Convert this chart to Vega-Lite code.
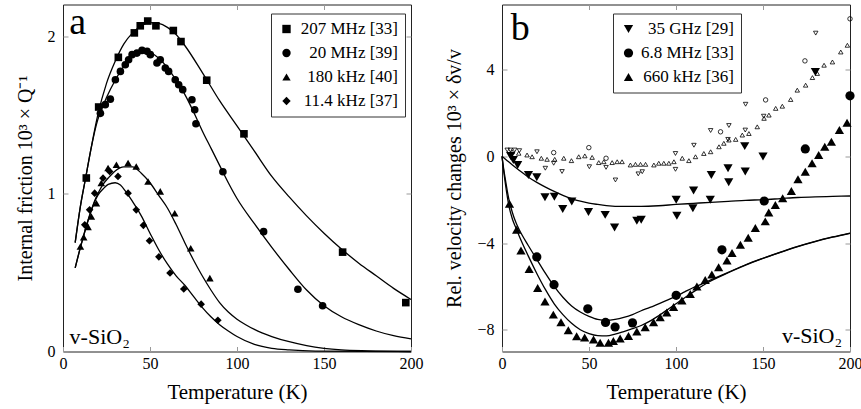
{
  "$schema": "https://vega.github.io/schema/vega-lite/v6.json",
  "padding": {"left": 14, "top": 2.5, "right": 5, "bottom": 5},
  "spacing": 91,
  "bounds": "flush",
  "datasets": {
    "curvesA": [
      {"c":"207","T":7,"v":0.69},{"c":"207","T":10,"v":0.92},{"c":"207","T":13,"v":1.1},{"c":"207","T":16,"v":1.28},{"c":"207","T":20,"v":1.5},{"c":"207","T":25,"v":1.7},{"c":"207","T":30,"v":1.84},{"c":"207","T":35,"v":1.95},{"c":"207","T":40,"v":2.02},{"c":"207","T":45,"v":2.065},{"c":"207","T":50,"v":2.085},{"c":"207","T":55,"v":2.08},{"c":"207","T":60,"v":2.055},{"c":"207","T":65,"v":2.01},{"c":"207","T":70,"v":1.94},{"c":"207","T":80,"v":1.77},{"c":"207","T":90,"v":1.59},{"c":"207","T":100,"v":1.43},{"c":"207","T":110,"v":1.27},{"c":"207","T":120,"v":1.11},{"c":"207","T":130,"v":0.98},{"c":"207","T":140,"v":0.86},{"c":"207","T":150,"v":0.75},{"c":"207","T":160,"v":0.65},{"c":"207","T":170,"v":0.56},{"c":"207","T":180,"v":0.48},{"c":"207","T":190,"v":0.4},{"c":"207","T":200,"v":0.33},
      {"c":"20","T":7,"v":0.69},{"c":"20","T":10,"v":0.92},{"c":"20","T":13,"v":1.1},{"c":"20","T":16,"v":1.28},{"c":"20","T":20,"v":1.47},{"c":"20","T":22,"v":1.53},{"c":"20","T":25,"v":1.61},{"c":"20","T":30,"v":1.72},{"c":"20","T":35,"v":1.81},{"c":"20","T":40,"v":1.87},{"c":"20","T":45,"v":1.9},{"c":"20","T":50,"v":1.895},{"c":"20","T":55,"v":1.86},{"c":"20","T":60,"v":1.8},{"c":"20","T":65,"v":1.72},{"c":"20","T":70,"v":1.63},{"c":"20","T":75,"v":1.52},{"c":"20","T":80,"v":1.4},{"c":"20","T":85,"v":1.29},{"c":"20","T":90,"v":1.18},{"c":"20","T":95,"v":1.07},{"c":"20","T":100,"v":0.97},{"c":"20","T":110,"v":0.81},{"c":"20","T":120,"v":0.66},{"c":"20","T":130,"v":0.52},{"c":"20","T":140,"v":0.39},{"c":"20","T":150,"v":0.29},{"c":"20","T":160,"v":0.22},{"c":"20","T":170,"v":0.17},{"c":"20","T":180,"v":0.13},{"c":"20","T":190,"v":0.1},{"c":"20","T":200,"v":0.08},
      {"c":"180","T":7,"v":0.53},{"c":"180","T":10,"v":0.66},{"c":"180","T":12,"v":0.74},{"c":"180","T":15,"v":0.855},{"c":"180","T":18,"v":0.95},{"c":"180","T":20,"v":1.0},{"c":"180","T":23,"v":1.06},{"c":"180","T":26,"v":1.1},{"c":"180","T":30,"v":1.145},{"c":"180","T":35,"v":1.17},{"c":"180","T":40,"v":1.17},{"c":"180","T":45,"v":1.13},{"c":"180","T":50,"v":1.07},{"c":"180","T":55,"v":0.99},{"c":"180","T":60,"v":0.91},{"c":"180","T":65,"v":0.805},{"c":"180","T":70,"v":0.69},{"c":"180","T":75,"v":0.58},{"c":"180","T":80,"v":0.48},{"c":"180","T":85,"v":0.39},{"c":"180","T":90,"v":0.31},{"c":"180","T":95,"v":0.25},{"c":"180","T":100,"v":0.205},{"c":"180","T":105,"v":0.17},{"c":"180","T":110,"v":0.14},{"c":"180","T":120,"v":0.095},{"c":"180","T":130,"v":0.062},{"c":"180","T":140,"v":0.037},{"c":"180","T":150,"v":0.02},{"c":"180","T":160,"v":0.01},{"c":"180","T":175,"v":0.004},{"c":"180","T":200,"v":0.0},
      {"c":"11","T":7,"v":0.53},{"c":"11","T":10,"v":0.66},{"c":"11","T":12,"v":0.74},{"c":"11","T":15,"v":0.85},{"c":"11","T":18,"v":0.945},{"c":"11","T":20,"v":0.99},{"c":"11","T":23,"v":1.03},{"c":"11","T":26,"v":1.06},{"c":"11","T":30,"v":1.07},{"c":"11","T":33,"v":1.055},{"c":"11","T":36,"v":1.015},{"c":"11","T":40,"v":0.95},{"c":"11","T":45,"v":0.86},{"c":"11","T":50,"v":0.75},{"c":"11","T":55,"v":0.645},{"c":"11","T":60,"v":0.555},{"c":"11","T":65,"v":0.48},{"c":"11","T":70,"v":0.42},{"c":"11","T":75,"v":0.35},{"c":"11","T":80,"v":0.28},{"c":"11","T":85,"v":0.22},{"c":"11","T":90,"v":0.17},{"c":"11","T":95,"v":0.13},{"c":"11","T":100,"v":0.095},{"c":"11","T":110,"v":0.045},{"c":"11","T":120,"v":0.02},{"c":"11","T":130,"v":0.01},{"c":"11","T":145,"v":0.003},{"c":"11","T":200,"v":0.0}
    ],
    "ptsA": [
      {"s":"207 MHz [33]","T":13.4,"v":1.1},{"s":"207 MHz [33]","T":20.5,"v":1.55},{"s":"207 MHz [33]","T":31.8,"v":1.865},{"s":"207 MHz [33]","T":41,"v":2.02},{"s":"207 MHz [33]","T":44.4,"v":2.065},{"s":"207 MHz [33]","T":48.7,"v":2.095},{"s":"207 MHz [33]","T":53.4,"v":2.065},{"s":"207 MHz [33]","T":63.4,"v":2.035},{"s":"207 MHz [33]","T":67.8,"v":1.965},{"s":"207 MHz [33]","T":82.6,"v":1.72},{"s":"207 MHz [33]","T":104,"v":1.38},{"s":"207 MHz [33]","T":160.7,"v":0.63},{"s":"207 MHz [33]","T":197,"v":0.31},
      {"s":"20 MHz [39]","T":21.5,"v":1.51},{"s":"20 MHz [39]","T":24.3,"v":1.565},{"s":"20 MHz [39]","T":27.2,"v":1.6},{"s":"20 MHz [39]","T":30.1,"v":1.723},{"s":"20 MHz [39]","T":33,"v":1.776},{"s":"20 MHz [39]","T":35.8,"v":1.818},{"s":"20 MHz [39]","T":37.7,"v":1.85},{"s":"20 MHz [39]","T":39.7,"v":1.882},{"s":"20 MHz [39]","T":42.5,"v":1.892},{"s":"20 MHz [39]","T":45.4,"v":1.909},{"s":"20 MHz [39]","T":48.3,"v":1.903},{"s":"20 MHz [39]","T":50.2,"v":1.882},{"s":"20 MHz [39]","T":54,"v":1.829},{"s":"20 MHz [39]","T":55.9,"v":1.85},{"s":"20 MHz [39]","T":58.8,"v":1.797},{"s":"20 MHz [39]","T":60.7,"v":1.776},{"s":"20 MHz [39]","T":64.5,"v":1.723},{"s":"20 MHz [39]","T":66.5,"v":1.691},{"s":"20 MHz [39]","T":68.8,"v":1.66},{"s":"20 MHz [39]","T":74.1,"v":1.596},{"s":"20 MHz [39]","T":75.7,"v":1.533},{"s":"20 MHz [39]","T":76.4,"v":1.444},{"s":"20 MHz [39]","T":91.9,"v":1.14},{"s":"20 MHz [39]","T":115.3,"v":0.76},{"s":"20 MHz [39]","T":135,"v":0.395},{"s":"20 MHz [39]","T":149.2,"v":0.29},
      {"s":"180 kHz [40]","T":10,"v":0.666},{"s":"180 kHz [40]","T":11.9,"v":0.725},{"s":"180 kHz [40]","T":14.4,"v":0.79},{"s":"180 kHz [40]","T":16.3,"v":0.856},{"s":"180 kHz [40]","T":19.2,"v":0.94},{"s":"180 kHz [40]","T":22,"v":1.068},{"s":"180 kHz [40]","T":25.9,"v":1.163},{"s":"180 kHz [40]","T":30.7,"v":1.184},{"s":"180 kHz [40]","T":37.4,"v":1.195},{"s":"180 kHz [40]","T":42.1,"v":1.173},{"s":"180 kHz [40]","T":48.9,"v":1.078},{"s":"180 kHz [40]","T":55.9,"v":1.015},{"s":"180 kHz [40]","T":64.2,"v":0.877},{"s":"180 kHz [40]","T":73.4,"v":0.655},{"s":"180 kHz [40]","T":84.4,"v":0.465},
      {"s":"11.4 kHz [37]","T":12.5,"v":0.803},{"s":"11.4 kHz [37]","T":15.3,"v":0.898},{"s":"11.4 kHz [37]","T":18.2,"v":1.004},{"s":"11.4 kHz [37]","T":23,"v":1.099},{"s":"11.4 kHz [37]","T":26.8,"v":1.142},{"s":"11.4 kHz [37]","T":31.6,"v":1.11},{"s":"11.4 kHz [37]","T":37.4,"v":1.004},{"s":"11.4 kHz [37]","T":42.1,"v":0.898},{"s":"11.4 kHz [37]","T":46.2,"v":0.8},{"s":"11.4 kHz [37]","T":49.7,"v":0.702},{"s":"11.4 kHz [37]","T":55.1,"v":0.6},{"s":"11.4 kHz [37]","T":61.5,"v":0.498},{"s":"11.4 kHz [37]","T":69.4,"v":0.396},{"s":"11.4 kHz [37]","T":79.4,"v":0.3},{"s":"11.4 kHz [37]","T":89,"v":0.198}
    ],
    "curvesB": [
      {"c":"35","T":0,"v":0},{"c":"35","T":3,"v":-0.2},{"c":"35","T":6,"v":-0.4},{"c":"35","T":10,"v":-0.65},{"c":"35","T":15,"v":-0.95},{"c":"35","T":20,"v":-1.2},{"c":"35","T":25,"v":-1.42},{"c":"35","T":30,"v":-1.62},{"c":"35","T":35,"v":-1.8},{"c":"35","T":40,"v":-1.95},{"c":"35","T":45,"v":-2.07},{"c":"35","T":50,"v":-2.16},{"c":"35","T":55,"v":-2.22},{"c":"35","T":60,"v":-2.27},{"c":"35","T":70,"v":-2.31},{"c":"35","T":80,"v":-2.31},{"c":"35","T":90,"v":-2.28},{"c":"35","T":100,"v":-2.22},{"c":"35","T":110,"v":-2.17},{"c":"35","T":120,"v":-2.12},{"c":"35","T":130,"v":-2.08},{"c":"35","T":140,"v":-2.03},{"c":"35","T":150,"v":-2.0},{"c":"35","T":160,"v":-1.95},{"c":"35","T":170,"v":-1.9},{"c":"35","T":180,"v":-1.87},{"c":"35","T":190,"v":-1.85},{"c":"35","T":200,"v":-1.83},
      {"c":"68","T":0,"v":0},{"c":"68","T":1,"v":-0.6},{"c":"68","T":2,"v":-1.1},{"c":"68","T":4,"v":-2.0},{"c":"68","T":6,"v":-2.6},{"c":"68","T":8,"v":-3.05},{"c":"68","T":10,"v":-3.4},{"c":"68","T":15,"v":-4.1},{"c":"68","T":20,"v":-4.75},{"c":"68","T":25,"v":-5.4},{"c":"68","T":30,"v":-6.0},{"c":"68","T":35,"v":-6.5},{"c":"68","T":40,"v":-6.9},{"c":"68","T":45,"v":-7.18},{"c":"68","T":50,"v":-7.38},{"c":"68","T":55,"v":-7.52},{"c":"68","T":60,"v":-7.56},{"c":"68","T":65,"v":-7.52},{"c":"68","T":70,"v":-7.43},{"c":"68","T":75,"v":-7.3},{"c":"68","T":80,"v":-7.12},{"c":"68","T":85,"v":-6.97},{"c":"68","T":90,"v":-6.8},{"c":"68","T":95,"v":-6.63},{"c":"68","T":100,"v":-6.45},{"c":"68","T":105,"v":-6.25},{"c":"68","T":110,"v":-6.05},{"c":"68","T":115,"v":-5.88},{"c":"68","T":120,"v":-5.7},{"c":"68","T":130,"v":-5.35},{"c":"68","T":140,"v":-5.0},{"c":"68","T":150,"v":-4.7},{"c":"68","T":160,"v":-4.42},{"c":"68","T":170,"v":-4.15},{"c":"68","T":180,"v":-3.92},{"c":"68","T":190,"v":-3.72},{"c":"68","T":200,"v":-3.54},
      {"c":"660","T":0,"v":0},{"c":"660","T":1,"v":-0.7},{"c":"660","T":2,"v":-1.3},{"c":"660","T":4,"v":-2.3},{"c":"660","T":6,"v":-2.9},{"c":"660","T":8,"v":-3.3},{"c":"660","T":10,"v":-3.7},{"c":"660","T":15,"v":-4.58},{"c":"660","T":20,"v":-5.4},{"c":"660","T":25,"v":-6.15},{"c":"660","T":30,"v":-6.8},{"c":"660","T":35,"v":-7.3},{"c":"660","T":40,"v":-7.7},{"c":"660","T":45,"v":-8.0},{"c":"660","T":50,"v":-8.18},{"c":"660","T":55,"v":-8.27},{"c":"660","T":60,"v":-8.28},{"c":"660","T":65,"v":-8.2},{"c":"660","T":70,"v":-8.08},{"c":"660","T":75,"v":-7.95},{"c":"660","T":80,"v":-7.8},{"c":"660","T":85,"v":-7.6},{"c":"660","T":90,"v":-7.35},{"c":"660","T":95,"v":-7.08},{"c":"660","T":100,"v":-6.8},{"c":"660","T":105,"v":-6.52},{"c":"660","T":110,"v":-6.25},{"c":"660","T":115,"v":-5.98},{"c":"660","T":120,"v":-5.75},{"c":"660","T":130,"v":-5.37},{"c":"660","T":140,"v":-5.02},{"c":"660","T":150,"v":-4.71},{"c":"660","T":160,"v":-4.43},{"c":"660","T":170,"v":-4.16},{"c":"660","T":180,"v":-3.93},{"c":"660","T":190,"v":-3.73},{"c":"660","T":200,"v":-3.55}
    ],
    "ptsB": [
      {"s":"35 GHz [29]","T":5,"v":0.01},{"s":"35 GHz [29]","T":6.5,"v":-0.17},{"s":"35 GHz [29]","T":9,"v":-0.4},{"s":"35 GHz [29]","T":15.2,"v":-0.86},{"s":"35 GHz [29]","T":20,"v":-0.97},{"s":"35 GHz [29]","T":24.7,"v":-1.89},{"s":"35 GHz [29]","T":30.1,"v":-1.86},{"s":"35 GHz [29]","T":34.9,"v":-2.43},{"s":"35 GHz [29]","T":40.1,"v":-2.08},{"s":"35 GHz [29]","T":49.7,"v":-2.57},{"s":"35 GHz [29]","T":59.3,"v":-2.7},{"s":"35 GHz [29]","T":64.7,"v":-3.28},{"s":"35 GHz [29]","T":77.5,"v":-2.97},{"s":"35 GHz [29]","T":80,"v":-2.93},{"s":"35 GHz [29]","T":100.1,"v":-2.0},{"s":"35 GHz [29]","T":100.5,"v":-2.74},{"s":"35 GHz [29]","T":109.7,"v":-2.39},{"s":"35 GHz [29]","T":110.1,"v":-1.58},{"s":"35 GHz [29]","T":119.7,"v":-2.0},{"s":"35 GHz [29]","T":120.3,"v":-0.86},{"s":"35 GHz [29]","T":129.9,"v":-0.55},{"s":"35 GHz [29]","T":130.3,"v":-1.2},{"s":"35 GHz [29]","T":139.5,"v":0.47},{"s":"35 GHz [29]","T":139.8,"v":-0.7},{"s":"35 GHz [29]","T":150,"v":-0.01},{"s":"35 GHz [29]","T":180.1,"v":3.89},
      {"s":"6.8 MHz [33]","T":20,"v":-4.64},{"s":"6.8 MHz [33]","T":29.9,"v":-5.92},{"s":"6.8 MHz [33]","T":49.3,"v":-7.03},{"s":"6.8 MHz [33]","T":59.5,"v":-7.66},{"s":"6.8 MHz [33]","T":65,"v":-7.87},{"s":"6.8 MHz [33]","T":75,"v":-7.68},{"s":"6.8 MHz [33]","T":100.1,"v":-6.41},{"s":"6.8 MHz [33]","T":126.4,"v":-4.31},{"s":"6.8 MHz [33]","T":150.7,"v":-2.06},{"s":"6.8 MHz [33]","T":174.3,"v":0.34},{"s":"6.8 MHz [33]","T":200,"v":2.79},
      {"s":"660 kHz [36]","T":4.3,"v":-2.19},{"s":"660 kHz [36]","T":8.4,"v":-3.39},{"s":"660 kHz [36]","T":10.9,"v":-4.34},{"s":"660 kHz [36]","T":15.6,"v":-5.2},{"s":"660 kHz [36]","T":20.5,"v":-6.07},{"s":"660 kHz [36]","T":24.7,"v":-6.69},{"s":"660 kHz [36]","T":29.5,"v":-7.3},{"s":"660 kHz [36]","T":33.9,"v":-7.65},{"s":"660 kHz [36]","T":38.1,"v":-8.02},{"s":"660 kHz [36]","T":42.9,"v":-8.3},{"s":"660 kHz [36]","T":47.5,"v":-8.35},{"s":"660 kHz [36]","T":52.6,"v":-8.45},{"s":"660 kHz [36]","T":56.4,"v":-8.6},{"s":"660 kHz [36]","T":61.2,"v":-8.6},{"s":"660 kHz [36]","T":64,"v":-8.52},{"s":"660 kHz [36]","T":67.9,"v":-8.4},{"s":"660 kHz [36]","T":72.7,"v":-8.29},{"s":"660 kHz [36]","T":77.5,"v":-8.08},{"s":"660 kHz [36]","T":82.3,"v":-7.88},{"s":"660 kHz [36]","T":87.1,"v":-7.65},{"s":"660 kHz [36]","T":90.9,"v":-7.42},{"s":"660 kHz [36]","T":94.7,"v":-7.2},{"s":"660 kHz [36]","T":98.6,"v":-6.95},{"s":"660 kHz [36]","T":103.4,"v":-6.65},{"s":"660 kHz [36]","T":108.2,"v":-6.35},{"s":"660 kHz [36]","T":112,"v":-6.0},{"s":"660 kHz [36]","T":116.8,"v":-5.7},{"s":"660 kHz [36]","T":120.6,"v":-5.45},{"s":"660 kHz [36]","T":124.5,"v":-5.12},{"s":"660 kHz [36]","T":129.3,"v":-4.8},{"s":"660 kHz [36]","T":132.2,"v":-4.46},{"s":"660 kHz [36]","T":137,"v":-4.08},{"s":"660 kHz [36]","T":141.5,"v":-3.75},{"s":"660 kHz [36]","T":145.6,"v":-3.31},{"s":"660 kHz [36]","T":151.3,"v":-3.0},{"s":"660 kHz [36]","T":153.3,"v":-2.59},{"s":"660 kHz [36]","T":157.1,"v":-2.24},{"s":"660 kHz [36]","T":161.3,"v":-1.93},{"s":"660 kHz [36]","T":166.3,"v":-1.6},{"s":"660 kHz [36]","T":170.1,"v":-1.06},{"s":"660 kHz [36]","T":174.3,"v":-0.71},{"s":"660 kHz [36]","T":178.2,"v":-0.32},{"s":"660 kHz [36]","T":182,"v":0.06},{"s":"660 kHz [36]","T":185.5,"v":0.44},{"s":"660 kHz [36]","T":189.3,"v":0.67},{"s":"660 kHz [36]","T":193.9,"v":1.21},{"s":"660 kHz [36]","T":198.3,"v":1.55}
    ],
    "openB": [
      {"s":"up","T":5.8,"v":0.21},{"s":"up","T":9.6,"v":0.14},{"s":"up","T":14.4,"v":0.06},{"s":"up","T":17.3,"v":-0.02},{"s":"up","T":22.6,"v":-0.09},{"s":"up","T":25.9,"v":-0.14},{"s":"up","T":30.3,"v":-0.14},{"s":"up","T":35.5,"v":-0.09},{"s":"up","T":39.9,"v":-0.2},{"s":"up","T":44.1,"v":-0.02},{"s":"up","T":47.6,"v":0.02},{"s":"up","T":51.8,"v":-0.05},{"s":"up","T":55.6,"v":-0.29},{"s":"up","T":58.5,"v":-0.25},{"s":"up","T":63.3,"v":-0.29},{"s":"up","T":66.2,"v":-0.25},{"s":"up","T":69,"v":-0.25},{"s":"up","T":73.8,"v":-0.4},{"s":"up","T":76.7,"v":-0.37},{"s":"up","T":79.6,"v":-0.37},{"s":"up","T":82.5,"v":-0.37},{"s":"up","T":87.3,"v":-0.4},{"s":"up","T":90.1,"v":-0.32},{"s":"up","T":93,"v":-0.32},{"s":"up","T":95.9,"v":-0.32},{"s":"up","T":98.8,"v":-0.25},{"s":"up","T":103.6,"v":-0.09},{"s":"up","T":107.4,"v":-0.2},{"s":"up","T":111.2,"v":-0.02},{"s":"up","T":116,"v":0.13},{"s":"up","T":119.9,"v":0.21},{"s":"up","T":124.7,"v":0.44},{"s":"up","T":127.5,"v":0.6},{"s":"up","T":130.4,"v":0.75},{"s":"up","T":134.3,"v":0.78},{"s":"up","T":138.1,"v":0.98},{"s":"up","T":141.9,"v":1.05},{"s":"up","T":146.7,"v":1.36},{"s":"up","T":150.6,"v":1.75},{"s":"up","T":153.4,"v":1.9},{"s":"up","T":157.3,"v":2.21},{"s":"up","T":161.1,"v":2.31},{"s":"up","T":165.9,"v":2.62},{"s":"up","T":169.7,"v":3.05},{"s":"up","T":174.5,"v":3.28},{"s":"up","T":178.4,"v":3.63},{"s":"up","T":181.2,"v":3.82},{"s":"up","T":185.1,"v":4.2},{"s":"up","T":189.9,"v":4.35},{"s":"up","T":194.7,"v":4.81},{"s":"up","T":198.5,"v":5.12},
      {"s":"circ","T":29.7,"v":0.17},{"s":"circ","T":49.9,"v":0.4},{"s":"circ","T":59.8,"v":-0.09},{"s":"circ","T":125.6,"v":1.13},{"s":"circ","T":151.5,"v":2.6},{"s":"circ","T":174.1,"v":4.4},{"s":"circ","T":200,"v":6.34},
      {"s":"down","T":3,"v":0.29},{"s":"down","T":4.8,"v":0.29},{"s":"down","T":7.3,"v":0.29},{"s":"down","T":10,"v":0.26},{"s":"down","T":20.1,"v":0.21},{"s":"down","T":24.9,"v":-0.55},{"s":"down","T":29.7,"v":-0.32},{"s":"down","T":34.5,"v":-0.7},{"s":"down","T":50.2,"v":-0.48},{"s":"down","T":59.8,"v":-0.51},{"s":"down","T":65.2,"v":-1.09},{"s":"down","T":78.3,"v":-0.81},{"s":"down","T":80.6,"v":-0.71},{"s":"down","T":99.7,"v":-0.6},{"s":"down","T":99.7,"v":0.13},{"s":"down","T":110.3,"v":0.51},{"s":"down","T":119.9,"v":1.19},{"s":"down","T":129.9,"v":0.78},{"s":"down","T":130.4,"v":1.42},{"s":"down","T":139.8,"v":1.21},{"s":"down","T":140,"v":2.4},{"s":"down","T":150.4,"v":1.85},{"s":"down","T":180.3,"v":5.68}
    ],
    "labA": [{"t":"a","T":3.6,"v":2.016}],
    "matA": [{"t":"v-SiO₂","T":3.8,"v":0.045}],
    "labB": [{"t":"b","T":5,"v":5.35}],
    "matB": [{"t":"v-SiO₂","T":195.5,"v":-8.6}]
  },
  "hconcat": [
    {
      "width": 348,
      "height": 347,
      "layer": [
        {
          "data": {"name": "curvesA"},
          "mark": {"type": "line", "color": "black", "strokeWidth": 1.3, "interpolate": "monotone"},
          "encoding": {
            "x": {"field": "T", "type": "quantitative", "scale": {"domain": [0, 200], "nice": false}, "axis": {"orient": "bottom", "values": [0, 50, 100, 150, 200], "title": "Temperature (K)"}},
            "y": {"field": "v", "type": "quantitative", "scale": {"domain": [0, 2.2], "nice": false}, "axis": {"orient": "left", "values": [0, 1, 2], "title": "Internal friction 10³ × Q⁻¹"}},
            "detail": {"field": "c"}
          }
        },
        {
          "data": {"name": "ptsA"},
          "mark": {"type": "point", "filled": true, "color": "black", "opacity": 1, "size": 58},
          "encoding": {
            "x": {"field": "T", "type": "quantitative", "axis": null},
            "y": {"field": "v", "type": "quantitative", "axis": null},
            "shape": {"field": "s", "type": "nominal",
              "scale": {"domain": ["207 MHz [33]", "20 MHz [39]", "180 kHz [40]", "11.4 kHz [37]"], "range": ["square", "circle", "triangle-up", "diamond"]},
              "legend": {"orient": "none", "legendX": 208, "legendY": 9, "title": null, "strokeColor": "#333", "padding": 7, "symbolSize": 70, "symbolFillColor": "black", "symbolStrokeColor": "black", "labelFontSize": 17, "labelFont": "Liberation Serif", "labelColor": "black", "labelAlign": "right", "labelOffset": 103, "rowPadding": 6}
            }
          }
        },
        {
          "data": {"name": "curvesA"},
          "mark": {"type": "point", "opacity": 0},
          "encoding": {
            "x": {"field": "T", "type": "quantitative", "axis": {"orient": "top", "values": [50, 100, 150], "labels": false, "title": null}},
            "y": {"field": "v", "type": "quantitative", "axis": {"orient": "right", "values": [1, 2], "labels": false, "title": null}}
          }
        },
        {
          "data": {"name": "labA"},
          "mark": {"type": "text", "align": "left", "baseline": "alphabetic", "fontSize": 38, "font": "Liberation Serif", "color": "black"},
          "encoding": {
            "x": {"field": "T", "type": "quantitative", "axis": null},
            "y": {"field": "v", "type": "quantitative", "axis": null},
            "text": {"field": "t"}
          }
        },
        {
          "data": {"name": "matA"},
          "mark": {"type": "text", "align": "left", "baseline": "alphabetic", "fontSize": 22, "font": "Liberation Serif", "color": "black"},
          "encoding": {
            "x": {"field": "T", "type": "quantitative", "axis": null},
            "y": {"field": "v", "type": "quantitative", "axis": null},
            "text": {"field": "t"}
          }
        }
      ],
      "resolve": {"axis": {"x": "independent", "y": "independent"}}
    },
    {
      "width": 348,
      "height": 347,
      "layer": [
        {
          "data": {"name": "curvesB"},
          "mark": {"type": "line", "color": "black", "strokeWidth": 1.3, "interpolate": "monotone"},
          "encoding": {
            "x": {"field": "T", "type": "quantitative", "scale": {"domain": [0, 200], "nice": false}, "axis": {"orient": "bottom", "values": [0, 50, 100, 150, 200], "title": "Temperature (K)"}},
            "y": {"field": "v", "type": "quantitative", "scale": {"domain": [-9, 7], "nice": false}, "axis": {"orient": "left", "values": [-8, -4, 0, 4], "title": "Rel. velocity changes 10³ × δv/v"}},
            "detail": {"field": "c"}
          }
        },
        {
          "data": {"name": "openB"},
          "mark": {"type": "point", "filled": false, "color": "black", "opacity": 1, "size": 20, "strokeWidth": 0.8},
          "encoding": {
            "x": {"field": "T", "type": "quantitative", "axis": null},
            "y": {"field": "v", "type": "quantitative", "axis": null},
            "shape": {"field": "s", "type": "nominal", "scale": {"domain": ["up", "circ", "down"], "range": ["triangle-up", "circle", "triangle-down"]}, "legend": null}
          }
        },
        {
          "data": {"name": "ptsB"},
          "mark": {"type": "point", "filled": true, "color": "black", "opacity": 1, "size": 85},
          "encoding": {
            "x": {"field": "T", "type": "quantitative", "axis": null},
            "y": {"field": "v", "type": "quantitative", "axis": null},
            "shape": {"field": "s", "type": "nominal",
              "scale": {"domain": ["35 GHz [29]", "6.8 MHz [33]", "660 kHz [36]"], "range": ["triangle-down", "circle", "triangle-up"]},
              "legend": {"orient": "none", "legendX": 111, "legendY": 9, "title": null, "strokeColor": "#333", "padding": 7, "symbolSize": 85, "symbolFillColor": "black", "symbolStrokeColor": "black", "labelFontSize": 17, "labelFont": "Liberation Serif", "labelColor": "black", "labelAlign": "right", "labelOffset": 97, "rowPadding": 6}
            }
          }
        },
        {
          "data": {"name": "curvesB"},
          "mark": {"type": "point", "opacity": 0},
          "encoding": {
            "x": {"field": "T", "type": "quantitative", "axis": {"orient": "top", "values": [50, 100, 150], "labels": false, "title": null}},
            "y": {"field": "v", "type": "quantitative", "axis": {"orient": "right", "values": [-8, -4, 0, 4], "labels": false, "title": null}}
          }
        },
        {
          "data": {"name": "labB"},
          "mark": {"type": "text", "align": "left", "baseline": "alphabetic", "fontSize": 38, "font": "Liberation Serif", "color": "black"},
          "encoding": {
            "x": {"field": "T", "type": "quantitative", "axis": null},
            "y": {"field": "v", "type": "quantitative", "axis": null},
            "text": {"field": "t"}
          }
        },
        {
          "data": {"name": "matB"},
          "mark": {"type": "text", "align": "right", "baseline": "alphabetic", "fontSize": 22, "font": "Liberation Serif", "color": "black"},
          "encoding": {
            "x": {"field": "T", "type": "quantitative", "axis": null},
            "y": {"field": "v", "type": "quantitative", "axis": null},
            "text": {"field": "t"}
          }
        }
      ],
      "resolve": {"axis": {"x": "independent", "y": "independent"}, "scale": {"shape": "independent"}}
    }
  ],
  "config": {
    "font": "Liberation Serif",
    "view": {"stroke": "#222", "strokeWidth": 1},
    "axis": {"domain": false, "grid": false, "tickColor": "#999", "tickSize": -5, "tickWidth": 1, "labelPadding": 9, "labelFont": "Liberation Serif", "labelFontSize": 16, "labelColor": "black", "labelFlush": false, "labelOverlap": false, "titleFont": "Liberation Serif", "titleFontSize": 20, "titleFontWeight": "normal", "titleColor": "black", "titlePadding": 12},
    "axisY": {"labelPadding": 13},
    "axisX": {"titleFontSize": 21, "titlePadding": 10}
  }
}
